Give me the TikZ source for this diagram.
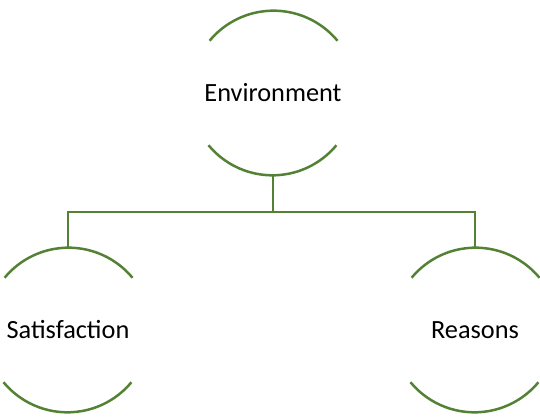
\documentclass[tikz,border=0pt]{standalone}
\usepackage{fontspec}
\setmainfont{Carlito}
\definecolor{arcgreen}{HTML}{548235}
\begin{document}
\begin{tikzpicture}[x=1pt,y=1pt,
  topic/.style={circle,minimum size=166pt,inner sep=0pt,outer sep=0pt,
    font=\fontsize{26.3}{31}\selectfont},
  rim/.style={draw=arcgreen,line width=2.5pt},
  link/.style={draw=arcgreen,line width=2.5pt}]
\useasboundingbox (0,0) rectangle (540,417);
% three topics, each shown as a circle with only its top and bottom arcs
\node[topic] (env)  at (273,324) {Environment};
\node[topic] (sat)  at (68,87)   {Satisfaction};
\node[topic] (reas) at (475,87)  {Reasons};
\foreach \n in {env,sat,reas}{
  \draw[rim] (\n.39.6) arc[start angle=39.6, end angle=140.4, radius=83pt];
  \draw[rim] (\n.219.6) arc[start angle=219.6, end angle=320.4, radius=83pt];
}
% elbow connectors from the top topic to the two lower ones
\coordinate (bar) at (0,205);
\draw[link] (env.south) -- (env.south |- bar);
\draw[link] (sat.north) -- (sat.north |- bar) -- (reas.north |- bar) -- (reas.north);
\end{tikzpicture}
\end{document}
